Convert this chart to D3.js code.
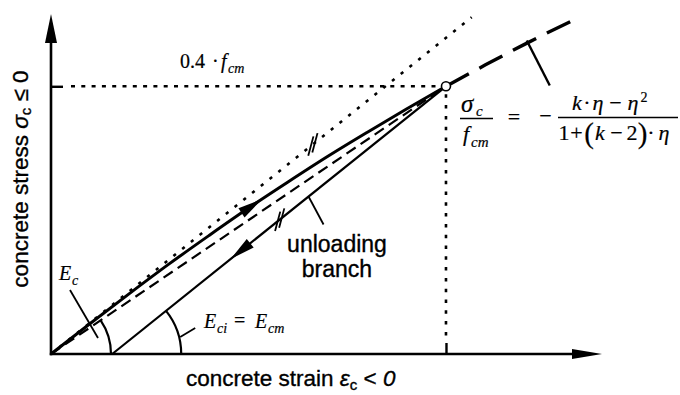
<!DOCTYPE html>
<html>
<head>
<meta charset="utf-8">
<script src="https://cdn.jsdelivr.net/npm/d3@7"></script>
<style>
  html, body { margin: 0; padding: 0; background: #fff; }
  svg { display: block; }
  .sans { font-family: "Liberation Sans", Arial, Helvetica, sans-serif; stroke: #000; stroke-width: 0.35px; }
  .serif { font-family: "Liberation Serif", "Times New Roman", serif; stroke: #000; stroke-width: 0.2px; }
</style>
</head>
<body>
<svg id="chart" width="680" height="395"></svg>
<script>
// Axis extents (strain normalised to the 0.4·fcm point, stress as σc/fcm)
const strainMax = 1.395;
const stressMax = 0.508;

// Tick positions on the axes
const xTicks = [1.0];
const yTicks = [0.4];

// Loading branch up to 0.4·fcm
const loadingStrain = [0, 0.1, 0.2, 0.3, 0.4, 0.5, 0.6, 0.7, 0.8, 0.9, 1.0];
const loadingStress = [0, 0.046, 0.091, 0.135, 0.177, 0.218, 0.257, 0.295, 0.331, 0.366, 0.40];

// Continuation of the stress-strain curve beyond 0.4·fcm
const curveStrain = [1.0, 1.1, 1.2, 1.33];
const curveStress = [0.40, 0.432, 0.463, 0.501];

// Tangent at the origin (E_ci)
const tangentStrain = [0, 1.065];
const tangentStress = [0, 0.503];

// Secant to 0.4·fcm (E_c)
const secantStrain = [0, 1.0];
const secantStress = [0, 0.40];

// Unloading branch, parallel to the tangent
const unloadStrain = [0.155, 1.0];
const unloadStress = [0, 0.40];

// Marked point at 0.4·fcm
const peakStrain = 1.0;
const peakStress = 0.40;

// Where arrows and break marks sit (strain values)
const loadArrowAt = 0.535;
const unloadArrowAt = 0.455;
const tangentBreakAt = 0.663;
const unloadBreakAt = 0.579;

const svg = d3.select("#chart");
const x = d3.scaleLinear().domain([0, strainMax]).range([51, 602]);
const y = d3.scaleLinear().domain([0, stressMax]).range([354, 14]);
const zip = (a, b) => a.map((v, i) => [v, b[i]]);
const line = d3.line().x(d => x(d[0])).y(d => y(d[1]));
const curve = d3.line().x(d => x(d[0])).y(d => y(d[1])).curve(d3.curveMonotoneX);

function arrowHead(tx, ty, ang, len, hw) {
  const c = Math.cos(ang), s = Math.sin(ang);
  const bx = tx - c * len, by = ty - s * len;
  const pts = [[tx, ty], [bx - s * hw, by + c * hw], [bx + s * hw, by - c * hw]];
  svg.append("polygon").attr("points", pts.map(p => p.join(",")).join(" ")).attr("fill", "#000");
}

// ---- axes ----
const gx = svg.append("g").attr("transform", `translate(0,${y(0)})`)
  .call(d3.axisBottom(x).tickValues(xTicks).tickSize(-11).tickSizeOuter(0).tickFormat(""));
gx.select(".domain").remove();
gx.selectAll(".tick line").attr("stroke", "#000").attr("stroke-width", 2.4);

const gy = svg.append("g").attr("transform", `translate(${x(0)},0)`)
  .call(d3.axisLeft(y).tickValues(yTicks).tickSize(-12).tickSizeOuter(0).tickFormat(""));
gy.select(".domain").remove();
gy.selectAll(".tick line").attr("stroke", "#000").attr("stroke-width", 2.4);

svg.append("line").attr("x1", x(0) - 1.2).attr("y1", y(0)).attr("x2", x(strainMax) - 20).attr("y2", y(0))
  .attr("stroke", "#000").attr("stroke-width", 2.6);
arrowHead(x(strainMax), y(0), 0, 30, 5);
svg.append("line").attr("x1", x(0)).attr("y1", y(0) + 1.2).attr("x2", x(0)).attr("y2", y(stressMax) + 20)
  .attr("stroke", "#000").attr("stroke-width", 2.6);
arrowHead(x(0), y(stressMax), -Math.PI / 2, 29, 6);

// ---- guides to the 0.4·fcm point ----
svg.append("line").attr("x1", x(0) + 20).attr("y1", y(peakStress)).attr("x2", x(peakStrain) - 5).attr("y2", y(peakStress))
  .attr("stroke", "#000").attr("stroke-width", 2.4).attr("stroke-dasharray", "4,6.3");
svg.append("line").attr("x1", x(peakStrain)).attr("y1", y(peakStress) + 8).attr("x2", x(peakStrain)).attr("y2", y(0) - 12)
  .attr("stroke", "#000").attr("stroke-width", 2.6).attr("stroke-dasharray", "3.5,7.3");

// ---- tangent (dotted) ----
svg.append("path").attr("d", line(zip(tangentStrain, tangentStress)))
  .attr("fill", "none").attr("stroke", "#000").attr("stroke-width", 2.6)
  .attr("stroke-dasharray", "3.2,8").attr("stroke-linecap", "butt");

// ---- secant (dashed) ----
svg.append("path").attr("d", line(zip(secantStrain, secantStress)))
  .attr("fill", "none").attr("stroke", "#000").attr("stroke-width", 2.2).attr("stroke-dasharray", "11,6");

// ---- unloading branch ----
svg.append("path").attr("d", line(zip(unloadStrain, unloadStress)))
  .attr("fill", "none").attr("stroke", "#000").attr("stroke-width", 2.2);

// ---- loading branch ----
svg.append("path").attr("d", curve(zip(loadingStrain, loadingStress)))
  .attr("fill", "none").attr("stroke", "#000").attr("stroke-width", 3);

// ---- curve beyond 0.4·fcm ----
svg.append("path").attr("d", curve(zip(curveStrain, curveStress)))
  .attr("fill", "none").attr("stroke", "#000").attr("stroke-width", 3.4).attr("stroke-dasharray", "26,12");

// ---- arrows along the branches ----
const loadInterp = d3.scaleLinear().domain(loadingStrain).range(loadingStress);
{
  const tx = x(loadArrowAt), ty = y(loadInterp(loadArrowAt));
  const a = Math.atan2(y(loadInterp(loadArrowAt + 0.05)) - y(loadInterp(loadArrowAt - 0.05)),
                       x(loadArrowAt + 0.05) - x(loadArrowAt - 0.05));
  arrowHead(tx, ty, a, 25, 5.5);
}
const unloadInterp = d3.scaleLinear().domain(unloadStrain).range(unloadStress);
{
  const tx = x(unloadArrowAt), ty = y(unloadInterp(unloadArrowAt));
  const a = Math.atan2(y(unloadStress[0]) - y(unloadStress[1]), x(unloadStrain[0]) - x(unloadStrain[1]));
  arrowHead(tx, ty, a, 25, 5.5);
}

// ---- break marks "//" ----
function breakMark(px, py, ang) {
  const lc = Math.cos(ang), ls = Math.sin(ang);
  const sa = -75 * Math.PI / 180, sc = Math.cos(sa), ss = Math.sin(sa);
  [-2.6, 2.6].forEach(o => {
    const cx = px + lc * o, cy = py + ls * o;
    svg.append("line").attr("x1", cx - sc * 10).attr("y1", cy - ss * 10)
      .attr("x2", cx + sc * 10).attr("y2", cy + ss * 10)
      .attr("stroke", "#000").attr("stroke-width", 1.8);
  });
}
const tangentInterp = d3.scaleLinear().domain(tangentStrain).range(tangentStress);
breakMark(x(tangentBreakAt), y(tangentInterp(tangentBreakAt)),
  Math.atan2(y(tangentStress[1]) - y(0), x(tangentStrain[1]) - x(0)));
breakMark(x(unloadBreakAt), y(unloadInterp(unloadBreakAt)),
  Math.atan2(y(unloadStress[1]) - y(unloadStress[0]), x(unloadStrain[1]) - x(unloadStrain[0])));

// ---- marked point ----
svg.append("circle").attr("cx", x(peakStrain)).attr("cy", y(peakStress)).attr("r", 4.5)
  .attr("fill", "#fff").attr("stroke", "#000").attr("stroke-width", 1.6);

// ---- angle arcs ----
function angleArc(cx, cy, r, angDeg) {
  const arc = d3.arc().innerRadius(r).outerRadius(r)
    .startAngle(Math.PI / 2 - angDeg * Math.PI / 180).endAngle(Math.PI / 2);
  svg.append("path").attr("d", arc()).attr("transform", `translate(${cx},${cy})`)
    .attr("fill", "none").attr("stroke", "#000").attr("stroke-width", 2.2);
}
const secAng = Math.atan2(y(0) - y(secantStress[1]), x(secantStrain[1]) - x(0)) * 180 / Math.PI;
const unlAng = Math.atan2(y(0) - y(unloadStress[1]), x(unloadStrain[1]) - x(unloadStrain[0])) * 180 / Math.PI;
angleArc(x(0), y(0), 60, secAng);
angleArc(x(unloadStrain[0]), y(0), 69, unlAng);

// ---- leaders ----
function leader(x1, y1, x2, y2, w) {
  svg.append("line").attr("x1", x1).attr("y1", y1).attr("x2", x2).attr("y2", y2)
    .attr("stroke", "#000").attr("stroke-width", w || 1.8);
}
leader(x(0) + 47, y(0) - 16, x(0) + 19, y(0) - 64);                   // E_c
leader(x(unloadStrain[0]) + 68, y(0) - 17, x(unloadStrain[0]) + 83, y(0) - 26); // E_ci
{
  const s = 0.652;
  leader(x(s), y(unloadInterp(s)), x(s) + 15, y(unloadInterp(s)) + 28);   // unloading branch
}
leader(x(1.202) + 1, y(0.464) - 3, x(1.202) + 24, y(0.464) + 42, 2.4);     // formula

// ---- text ----
const T = (cls, px, py, size, txt, italic) => svg.append("text").attr("class", cls)
  .attr("x", px).attr("y", py).attr("font-size", size)
  .attr("font-style", italic ? "italic" : "normal").attr("fill", "#000").text(txt);

// axis titles
const yl = svg.append("text").attr("class", "sans").attr("font-size", 22.5)
  .attr("text-anchor", "middle").attr("transform", "translate(28,179) rotate(-90)");
yl.append("tspan").text("concrete stress ");
yl.append("tspan").attr("font-style", "italic").text("σ");
yl.append("tspan").attr("font-size", 15).attr("dy", 3).text("c");
yl.append("tspan").attr("dy", -3).text(" ≤ 0");

const xl = svg.append("text").attr("class", "sans").attr("font-size", 22.5).attr("x", 186).attr("y", 386);
xl.append("tspan").text("concrete strain ");
xl.append("tspan").attr("font-style", "italic").text("ε");
xl.append("tspan").attr("font-size", 15).attr("dy", 4).text("c");
xl.append("tspan").attr("dy", -4).text(" < ");
xl.append("tspan").attr("font-style", "italic").text("0");

// unloading branch
T("sans", 337, 252, 23, "unloading").attr("text-anchor", "middle");
T("sans", 337, 277, 23, "branch").attr("text-anchor", "middle");

// 0.4·fcm
T("serif", 180, 68, 20, "0.4");
T("serif", 212, 68, 20, "·");
T("serif", 221, 68, 20, "f", true);
T("serif", 228, 73, 14, "cm", true);

// E_c
T("serif", 59, 280, 20, "E", true);
T("serif", 72, 285, 14, "c", true);

// E_ci = E_cm
T("serif", 204, 328, 20, "E", true);
T("serif", 217, 333, 14, "ci", true);
T("serif", 234, 327, 20, "=");
T("serif", 255, 328, 20, "E", true);
T("serif", 268, 333, 14, "cm", true);

// σc / fcm
T("serif", 461, 112, 25, "σ", true);
T("serif", 476, 116, 15, "c", true);
svg.append("line").attr("x1", 460).attr("x2", 493).attr("y1", 118.5).attr("y2", 118.5).attr("stroke", "#000").attr("stroke-width", 1.3);
T("serif", 463, 141, 22, "f", true);
T("serif", 471, 147, 15, "cm", true);
T("serif", 514, 124, 22, "=").attr("text-anchor", "middle");
T("serif", 545.5, 123, 22, "−").attr("text-anchor", "middle");

// right-hand fraction
const num = [[577, "k", true], [587, "·", false], [598, "η", true], [615.5, "−", false], [633, "η", true]];
num.forEach(d => T("serif", d[0], 110, 22, d[1], d[2]).attr("text-anchor", "middle"));
T("serif", 644, 102, 14, "2").attr("text-anchor", "middle");
svg.append("line").attr("x1", 558).attr("x2", 678).attr("y1", 117.5).attr("y2", 117.5).attr("stroke", "#000").attr("stroke-width", 1.3);
const den = [[564, "1", false], [576.5, "+", false], [600, "k", true], [616.5, "−", false], [632, "2", false], [651, "·", false], [664, "η", true]];
den.forEach(d => T("serif", d[0], 140, 22, d[1], d[2]).attr("text-anchor", "middle"));
T("serif", 589, 143, 29, "(").attr("text-anchor", "middle");
T("serif", 642.5, 143, 29, ")").attr("text-anchor", "middle");
</script>
</body>
</html>
